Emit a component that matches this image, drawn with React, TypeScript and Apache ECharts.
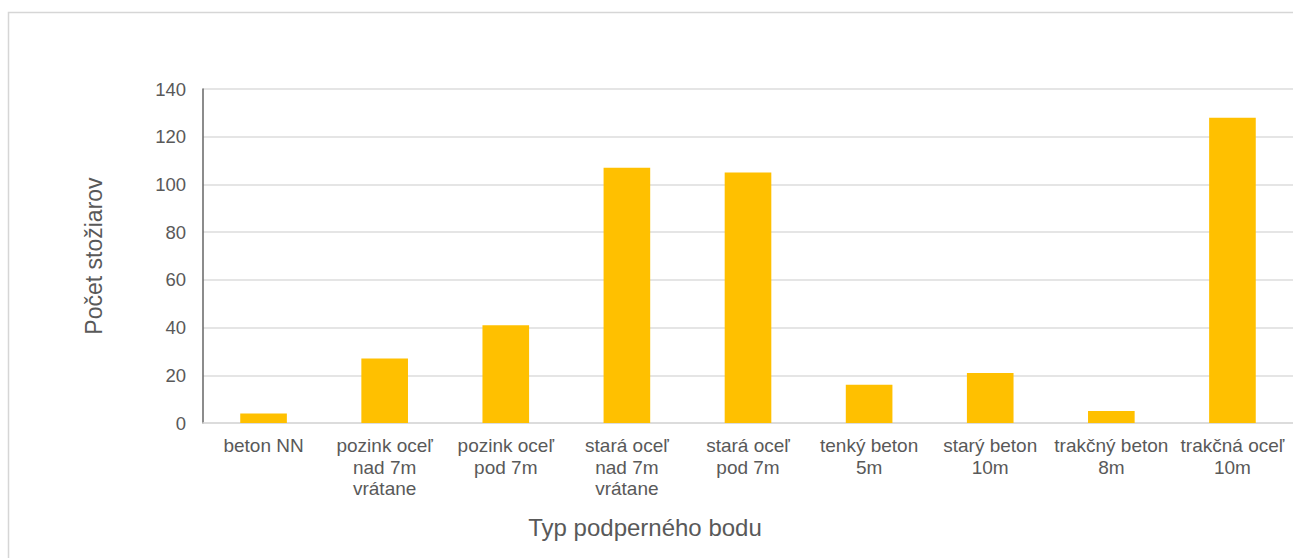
import React, { useEffect, useRef } from "react";
import * as echarts from "echarts";

// Pole types (x-axis categories); line breaks follow the wrapped labels
const categories: string[] = [
  "beton NN",
  "pozink oceľ\nnad 7m\nvrátane",
  "pozink oceľ\npod 7m",
  "stará oceľ\nnad 7m\nvrátane",
  "stará oceľ\npod 7m",
  "tenký beton\n5m",
  "starý beton\n10m",
  "trakčný beton\n8m",
  "trakčná oceľ\n10m",
];

// Number of poles per type
const poleCounts: number[] = [4, 27, 41, 107, 105, 16, 21, 5, 128];

// Value axis range and step
const yMin = 0;
const yMax = 140;
const yStep = 20;

const xAxisTitle = "Typ podperného bodu";
const yAxisTitle = "Počet stožiarov";

const FONT = "'Liberation Sans', Arial, sans-serif";
const TEXT_COLOR = "#595959";

export default function App() {
  const ref = useRef<HTMLDivElement>(null);

  useEffect(() => {
    if (!ref.current) return;
    const chart = echarts.init(ref.current, undefined, { renderer: "svg" });
    chart.setOption({
      animation: false,
      backgroundColor: "#ffffff",
      textStyle: { fontFamily: FONT },
      grid: { left: 203, top: 89, bottom: 135, right: -2, containLabel: false },
      graphic: [
        {
          type: "rect",
          shape: { x: 8.5, y: 12.5, width: 1400, height: 700 },
          style: { fill: "none", stroke: "#d6d6d6", lineWidth: 1.5 },
          silent: true,
        },
        {
          type: "text",
          x: 645,
          y: 527,
          style: {
            text: xAxisTitle,
            font: `24px ${FONT}`,
            fill: TEXT_COLOR,
            align: "center",
            verticalAlign: "middle",
          },
        },
      ],
      xAxis: {
        type: "category",
        data: categories,
        axisLine: { show: true, lineStyle: { color: "#d9d9d9", width: 1.5 } },
        axisTick: { show: false },
        axisLabel: {
          interval: 0,
          color: TEXT_COLOR,
          fontSize: 19,
          lineHeight: 21.5,
          margin: 12,
          fontFamily: FONT,
        },
      },
      yAxis: {
        type: "value",
        min: yMin,
        max: yMax,
        interval: yStep,
        name: yAxisTitle,
        nameLocation: "middle",
        nameGap: 98,
        nameRotate: 90,
        nameTextStyle: { color: TEXT_COLOR, fontSize: 23, fontFamily: FONT },
        axisLine: { show: true, lineStyle: { color: "#666666", width: 1.5 } },
        axisTick: { show: false },
        axisLabel: { color: TEXT_COLOR, fontSize: 18.5, margin: 17, fontFamily: FONT },
        splitLine: { show: true, lineStyle: { color: "#dcdcdc", width: 1.5 } },
      },
      series: [
        {
          type: "bar",
          data: poleCounts,
          barWidth: "38.5%",
          itemStyle: { color: "#FFC000" },
        },
      ],
    });
    return () => chart.dispose();
  }, []);

  return (
    <div
      ref={ref}
      style={{ position: "fixed", left: 0, top: 0, width: 1293, height: 558 }}
    />
  );
}
